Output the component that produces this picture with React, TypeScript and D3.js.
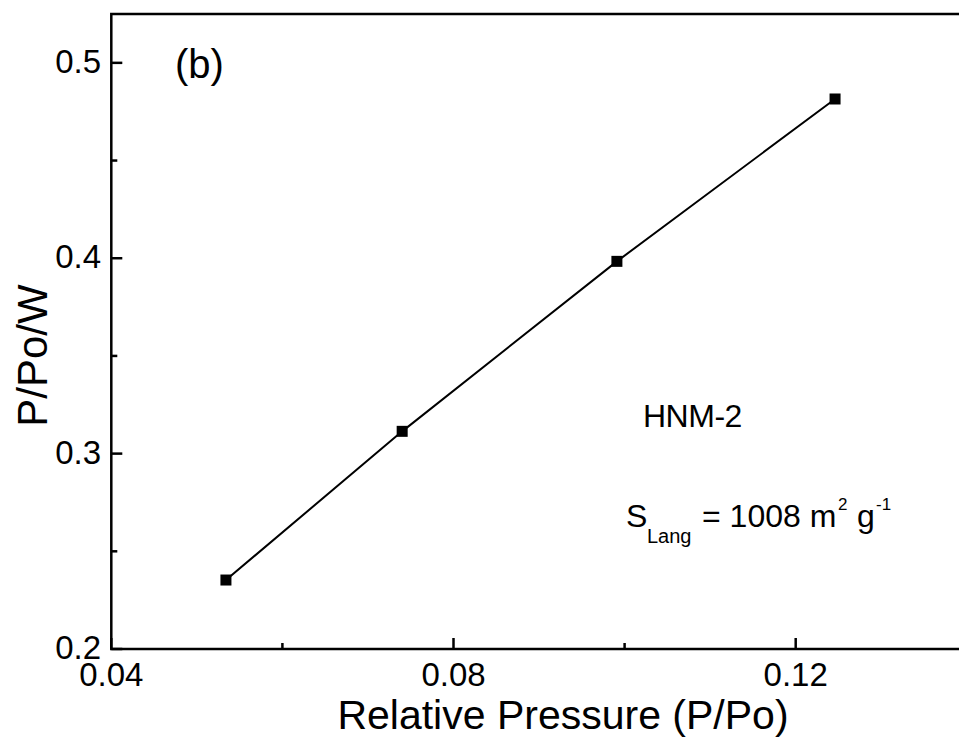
import React from "react";
import * as d3 from "d3";

const xValues = [0.0534, 0.074, 0.0991, 0.1246];
const yValues = [0.2353, 0.3114, 0.3984, 0.4815];
const xMajorTicks = [0.04, 0.08, 0.12];
const xMinorTicks = [0.06, 0.1, 0.14];
const xTickLabels = ["0.04", "0.08", "0.12"];
const yMajorTicks = [0.2, 0.3, 0.4, 0.5];
const yMinorTicks = [0.25, 0.35, 0.45];
const yTickLabels = ["0.2", "0.3", "0.4", "0.5"];

const W = 959;
const H = 740;
const FONT = "'Liberation Sans', Arial, Helvetica, sans-serif";

export default function App() {
  const x = d3.scaleLinear().domain([0.04, 0.14]).range([111.3, 966.8]);
  const y = d3.scaleLinear().domain([0.2, 0.525]).range([649, 14]);
  const pts = xValues.map((v, i) => [x(v), y(yValues[i])] as [number, number]);
  const line = d3.line()(pts) || "";
  const x0 = x(0.04), x1 = x(0.14), y0 = y(0.2), y1 = y(0.525);
  const maj = 11, minr = 6;
  return (
    <svg
      width={W}
      height={H}
      style={{ position: "absolute", left: 0, top: 0, background: "#fff" }}
      fontFamily={FONT}
    >
      <rect x={0} y={0} width={W} height={H} fill="#fff" />
      {/* frame */}
      <rect x={x0} y={y1} width={x1 - x0} height={y0 - y1} fill="none" stroke="#000" strokeWidth={2.5} />
      {/* y ticks */}
      {yMajorTicks.map((t, i) => (
        <g key={"ym" + i}>
          <line x1={x0} x2={x0 + maj} y1={y(t)} y2={y(t)} stroke="#000" strokeWidth={2.5} />
          <text x={101} y={y(t) + 10} textAnchor="end" fontSize={33}>{yTickLabels[i]}</text>
        </g>
      ))}
      {yMinorTicks.map((t, i) => (
        <line key={"yn" + i} x1={x0} x2={x0 + minr} y1={y(t)} y2={y(t)} stroke="#000" strokeWidth={2.5} />
      ))}
      {/* x ticks */}
      {xMajorTicks.map((t, i) => (
        <g key={"xm" + i}>
          <line x1={x(t)} x2={x(t)} y1={y0} y2={y0 - maj} stroke="#000" strokeWidth={2.5} />
          <text x={x(t)} y={686} textAnchor="middle" fontSize={33}>{xTickLabels[i]}</text>
        </g>
      ))}
      {xMinorTicks.map((t, i) => (
        <line key={"xn" + i} x1={x(t)} x2={x(t)} y1={y0} y2={y0 - minr} stroke="#000" strokeWidth={2.5} />
      ))}
      {/* axis titles */}
      <text x={563} y={729} textAnchor="middle" fontSize={41}>Relative Pressure (P/Po)</text>
      <text transform={`translate(47,355.5) rotate(-90)`} textAnchor="middle" fontSize={42}>P/Po/W</text>
      {/* data */}
      <path d={line} fill="none" stroke="#000" strokeWidth={2} />
      {pts.map((p, i) => (
        <rect key={"p" + i} x={p[0] - 5.5} y={p[1] - 5.5} width={11} height={11} fill="#000" />
      ))}
      {/* annotations */}
      <text x={175} y={78} fontSize={40}>(b)</text>
      <text x={643} y={427} fontSize={32} letterSpacing={-0.5}>HNM-2</text>
      <text x={626} y={527} fontSize={32}>S</text>
      <text x={647} y={543} fontSize={20}>Lang</text>
      <text x={702} y={527} fontSize={32}>= 1008 m</text>
      <text x={838} y={510} fontSize={17}>2</text>
      <text x={857} y={527} fontSize={32}>g</text>
      <text x={876} y={510} fontSize={17}>-1</text>
    </svg>
  );
}
